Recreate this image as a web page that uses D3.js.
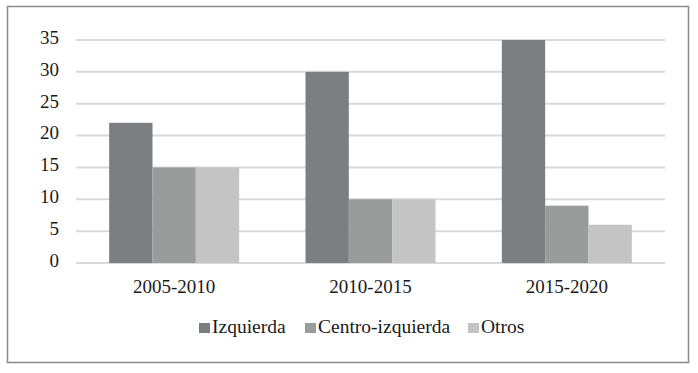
<!DOCTYPE html>
<html>
<head>
<meta charset="utf-8">
<script src="https://cdn.jsdelivr.net/npm/d3@7"></script>
<style>
  html, body { margin: 0; padding: 0; background: #fff; }
  svg { display: block; }
  svg text { font-family: "Liberation Serif", "DejaVu Serif", serif !important; fill: #1a1a1a; }
</style>
</head>
<body>
<svg id="chart" width="698" height="373"></svg>
<script>
const categories = ["2005-2010", "2010-2015", "2015-2020"];
const seriesNames = ["Izquierda", "Centro-izquierda", "Otros"];
const izquierda = [22, 30, 35];
const centroIzquierda = [15, 10, 9];
const otros = [15, 10, 6];
const yTicks = [0, 5, 10, 15, 20, 25, 30, 35];
const colors = ["#7c7f82", "#9a9c9c", "#c3c4c3"];

const seriesValues = [izquierda, centroIzquierda, otros];
const data = categories.map((c, i) => ({
  category: c,
  values: seriesNames.map((s, j) => ({ series: s, value: seriesValues[j][i] }))
}));

const FONT = "'Liberation Serif', 'DejaVu Serif', serif";
const svg = d3.select("#chart");
const plot = { left: 76, right: 665, top: 40, bottom: 263 };

// outer border
svg.append("rect")
  .attr("x", 7.5).attr("y", 6.5)
  .attr("width", 681).attr("height", 356)
  .attr("fill", "#fff")
  .attr("stroke", "#8a8a8a")
  .attr("stroke-width", 1.5);

const y = d3.scaleLinear().domain([0, 35]).range([plot.bottom, plot.top]);
const x0 = d3.scaleBand().domain(categories).range([plot.left, plot.right]).padding(0);
const x1 = d3.scaleBand().domain(seriesNames).range([0, x0.bandwidth()])
  .paddingInner(0).paddingOuter(0.765);
const color = d3.scaleOrdinal().domain(seriesNames).range(colors);

// gridlines
svg.append("g").selectAll("line")
  .data(yTicks)
  .join("line")
  .attr("x1", plot.left).attr("x2", plot.right)
  .attr("y1", d => y(d)).attr("y2", d => y(d))
  .attr("stroke", "#d9d9d9")
  .attr("stroke-width", 2);

// y axis labels
const yAxis = d3.axisLeft(y).tickValues(yTicks).tickSize(0).tickPadding(17);
const gy = svg.append("g").attr("transform", `translate(${plot.left},0)`).call(yAxis)
  .attr("font-family", FONT).attr("font-size", 19);
gy.select(".domain").remove();
gy.selectAll("text")
  .style("font-family", FONT)
  .style("font-size", "19px")
  .attr("fill", "#1a1a1a")
  .attr("dy", "0.18em");

// bars
const groups = svg.append("g").selectAll("g")
  .data(data)
  .join("g")
  .attr("transform", d => `translate(${x0(d.category)},0)`);

groups.selectAll("rect")
  .data(d => d.values)
  .join("rect")
  .attr("x", d => x1(d.series))
  .attr("width", x1.bandwidth())
  .attr("y", d => y(d.value))
  .attr("height", d => y(0) - y(d.value))
  .attr("fill", d => color(d.series));

// x axis labels
const xAxis = d3.axisBottom(x0).tickSize(0).tickPadding(17);
const gx = svg.append("g").attr("transform", `translate(0,${plot.bottom})`).call(xAxis)
  .attr("font-family", FONT).attr("font-size", 19);
gx.select(".domain").remove();
gx.selectAll("text")
  .style("font-family", FONT)
  .style("font-size", "19px")
  .attr("fill", "#1a1a1a");

// legend
const legendX = [199, 305, 468];
const legend = svg.append("g").selectAll("g")
  .data(seriesNames)
  .join("g")
  .attr("transform", (d, i) => `translate(${legendX[i]},333)`);
legend.append("rect")
  .attr("x", 0).attr("y", -10)
  .attr("width", 11).attr("height", 10)
  .attr("fill", d => color(d));
legend.append("text")
  .attr("x", 13).attr("y", 0)
  .style("font-family", FONT)
  .style("font-size", "19.5px")
  .text(d => d);
</script>
</body>
</html>
